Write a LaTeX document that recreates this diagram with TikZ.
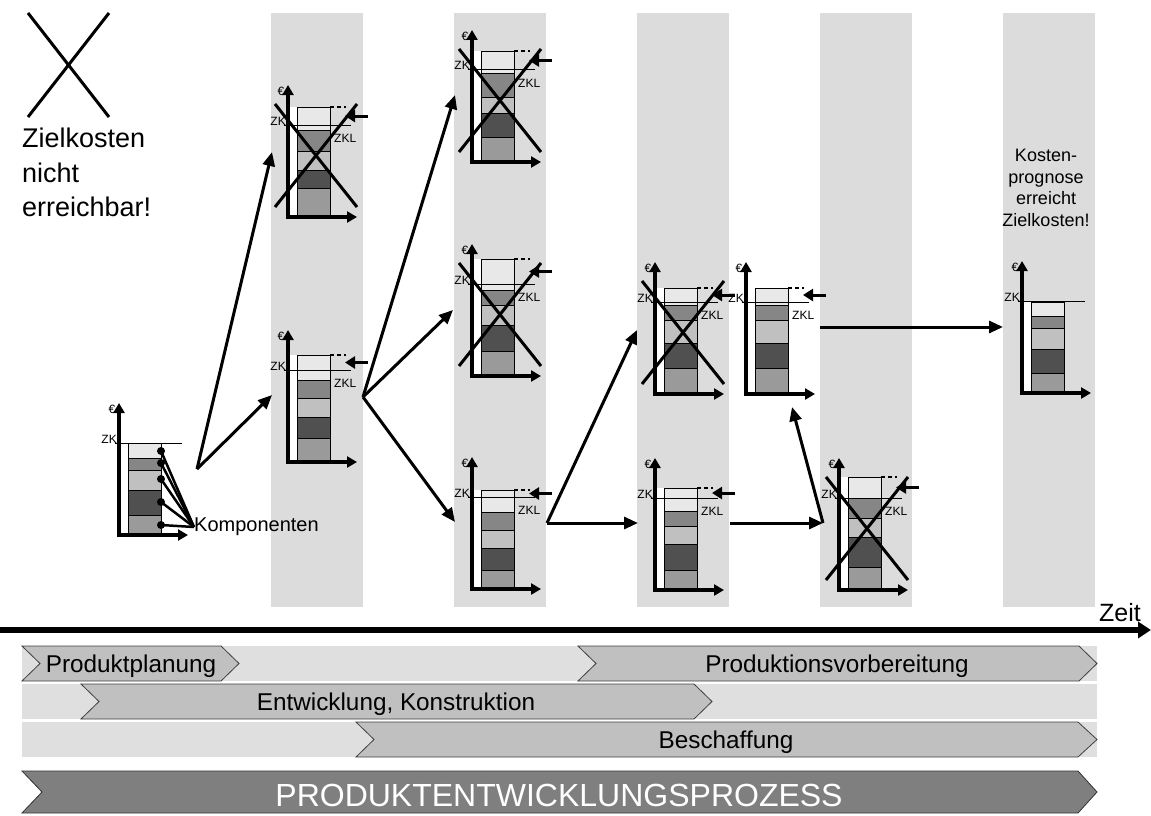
\documentclass[tikz,border=0pt]{standalone}
\usepackage{fontspec}
\setmainfont{Liberation Sans}
\usetikzlibrary{arrows.meta}

\definecolor{spaltengrau}{HTML}{DCDCDC}
\definecolor{bandgrau}{HTML}{DFDFDF}
\definecolor{phasengrau}{HTML}{C0C0C0}
\definecolor{pepgrau}{HTML}{7F7F7F}
\definecolor{kA}{HTML}{9A9A9A}
\definecolor{kB}{HTML}{505050}
\definecolor{kC}{HTML}{C0C0C0}
\definecolor{kD}{HTML}{868686}
\definecolor{kE}{HTML}{E8E8E8}

\tikzset{
  klein/.style={font=\fontsize{12}{14}\selectfont, inner sep=0pt},
  achse/.style={line width=4pt, -{Triangle[length=10pt,width=11pt]}},
  pfeil/.style={line width=3pt, -{Triangle[length=14pt,width=12pt]}},
  senken/.style={line width=3pt, -{Triangle[length=10pt,width=12pt]}},
  anteil/.style={draw=black, line width=0.8pt},
  luecke/.style={line width=2pt, dash pattern=on 4pt off 3pt},
  durch/.style={line width=3pt},
  zkline/.style={line width=1pt},
  phasenpfeil/.style={fill=phasengrau, draw=black!75, line width=0.8pt},
  phasentext/.style={font=\fontsize{24.3}{28}\selectfont, anchor=base, inner sep=0pt}
}

% Kostenbalken: #1 Name, (#2,#3) Ursprung, #4-#7 Grenzen, #8 Hoehe
\newcommand{\balken}[8]{%
  \fill[white] (#2,#3) rectangle (#2+42,#3-#8);
  \draw[anteil,fill=kA] (#2+9,#3) rectangle (#2+42,#3-#4);
  \draw[anteil,fill=kB] (#2+9,#3-#4) rectangle (#2+42,#3-#5);
  \draw[anteil,fill=kC] (#2+9,#3-#5) rectangle (#2+42,#3-#6);
  \draw[anteil,fill=kD] (#2+9,#3-#6) rectangle (#2+42,#3-#7);
  \draw[anteil,fill=kE] (#2+9,#3-#7) rectangle (#2+42,#3-#8);
  \draw[achse] (#2,#3+2) -- (#2,#3-132);
  \draw[achse] (#2-2,#3) -- (#2+69,#3);
  \node[klein] (#1-eur) at (#2-7,#3-126) {€};
}
% Zielkostenlinie
\newcommand{\zielkosten}[3]{%
  \draw[zkline] (#2-4,#3-92) -- (#2+63,#3-92);
  \node[klein, anchor=base east] (#1-zk) at (#2-2,#3-92) {ZK};
}
% Zielkostenluecke
\newcommand{\ueber}[4]{%
  \zielkosten{#1}{#2}{#3}
  \draw[luecke] (#2+42,#3-#4) -- (#2+58,#3-#4);
  \draw[senken] (#2+80,#3-46-#4/2) -- (#2+57,#3-46-#4/2);
  \node[klein, anchor=west] (#1-zkl) at (#2+46,#3-79) {ZKL};
}
\newcommand{\kreuz}[2]{%
  \draw[durch] (#1-13,#2-113) -- (#1+69,#2-10);
  \draw[durch] (#1-13,#2-10) -- (#1+69,#2-113);
}

\begin{document}
\begin{tikzpicture}[x=1pt,y=-1pt]
\useasboundingbox (0,0) rectangle (1151,816);

% Spalten
\foreach \x in {271,454,637,820,1003}
  \fill[spaltengrau] (\x,13) rectangle (\x+92,607);

% nicht erreichbar
\draw[durch] (28,13) -- (109,117);
\draw[durch] (109,13) -- (28,117);
\node[anchor=north west, align=left, inner sep=0pt, font=\fontsize{27}{34.5}\selectfont]
  (nichterreicht) at (22,128) {Zielkosten\\nicht\\erreichbar!};

% Ausgangslage
\balken{A}{119}{535}{20}{45}{65}{77}{92}
\zielkosten{A}{119}{535}
\node[anchor=west, inner sep=0pt, font=\fontsize{20}{24}\selectfont] (komp) at (194,527) {Komponenten};
\foreach \h in {84,72,56,33,10} {
  \draw[line width=2.5pt] (161,535-\h) -- (komp.west);
  \fill (161,535-\h) circle (4pt);
}

\balken{B1}{288}{217}{29}{47}{66}{87}{110}
\ueber{B1}{288}{217}{110}
\kreuz{288}{217}

\balken{B2}{288}{462}{24}{45}{64}{82}{107}
\ueber{B2}{288}{462}{107}

\balken{C1}{472}{162}{25}{49}{65}{89}{111}
\ueber{C1}{472}{162}{111}
\kreuz{472}{162}

\balken{C2}{472}{376}{25}{51}{71}{86}{117}
\ueber{C2}{472}{376}{117}
\kreuz{472}{376}

\balken{C3}{472}{589}{19}{41}{59}{77}{99}
\ueber{C3}{472}{589}{99}

\balken{D1}{655}{394}{26}{51}{74}{89}{106}
\ueber{D1}{655}{394}{106}
\kreuz{655}{394}

\balken{D2}{746}{394}{26}{51}{74}{89}{106}
\ueber{D2}{746}{394}{106}

\balken{D3}{655}{590}{20}{46}{64}{79}{102}
\ueber{D3}{655}{590}{102}

\balken{E1}{839}{590}{23}{53}{72}{92}{113}
\ueber{E1}{839}{590}{113}
\kreuz{839}{590}

\balken{F}{1022}{393}{20}{44}{65}{77}{91}
\zielkosten{F}{1022}{393}
\node[anchor=north, align=center, inner sep=0pt, font=\fontsize{18}{21.7}\selectfont]
  (prognose) at (1046,149) {Kosten-\\prognose\\erreicht\\Zielkosten!};

% Verzweigungen
\coordinate (vA) at (197,469);
\coordinate (vB) at (363,397);
\coordinate (vC) at (547,523);
\coordinate (vD) at (730,523);
\coordinate (vE) at (823,523);
\coordinate (vF) at (820,327);
\coordinate (tB1) at (272,152);
\coordinate (tB2) at (272,395);
\coordinate (tC1) at (455,95);
\coordinate (tC2) at (453,310);
\coordinate (tC3) at (455,522);
\coordinate (tD1) at (637,330);
\coordinate (tD3) at (638,523);
\coordinate (tD2) at (792,407);
\coordinate (tF) at (1003,327);
\draw[pfeil] (vA) -- (tB1);
\draw[pfeil] (vA) -- (tB2);
\draw[pfeil] (vB) -- (tC1);
\draw[pfeil] (vB) -- (tC2);
\draw[pfeil] (vB) -- (tC3);
\draw[pfeil] (vC) -- (tD1);
\draw[pfeil] (vC) -- (tD3);
\draw[pfeil] (vD) -- (vE);
\draw[pfeil] (vE) -- (tD2);
\draw[pfeil] (vF) -- (tF);

% Zeitachse
\coordinate (t0) at (0,630);
\coordinate (t1) at (1151,630);
\draw[line width=6pt, -{Triangle[length=13pt,width=16pt]}] (t0) -- (t1);
\node[anchor=base west, inner sep=0pt, font=\fontsize{25}{29}\selectfont] (zeit) at (1099,621) {Zeit};

% Phasen
\fill[bandgrau] (22,646) rectangle (1097,681);
\fill[bandgrau] (22,684) rectangle (1097,719);
\fill[bandgrau] (22,722) rectangle (1097,757);
\draw[phasenpfeil] (22,646) -- (221,646) -- (239,663.5) -- (221,681) -- (22,681) -- (40,663.5) -- cycle;
\node[phasentext] (planung) at (131,672) {Produktplanung};
\draw[phasenpfeil] (578,646) -- (1079,646) -- (1097,663.5) -- (1079,681) -- (578,681) -- (596,663.5) -- cycle;
\node[phasentext] (vorbereitung) at (837,672) {Produktionsvorbereitung};
\draw[phasenpfeil] (81,684) -- (694,684) -- (712,701.5) -- (694,719) -- (81,719) -- (99,701.5) -- cycle;
\node[phasentext] (entwicklung) at (396,710) {Entwicklung, Konstruktion};
\draw[phasenpfeil] (356,722) -- (1078,722) -- (1097,739.5) -- (1078,757) -- (356,757) -- (374,739.5) -- cycle;
\node[phasentext] (beschaffung) at (726,748) {Beschaffung};
\draw[fill=pepgrau, draw=black!80, line width=0.8pt] (22,771) -- (1078,771) -- (1097,792) -- (1078,813) -- (22,813) -- (42,792) -- cycle;
\node[phasentext, text=white, font=\fontsize{32}{37}\selectfont] (pep) at (559,806) {PRODUKTENTWICKLUNGSPROZESS};
\end{tikzpicture}
\end{document}
